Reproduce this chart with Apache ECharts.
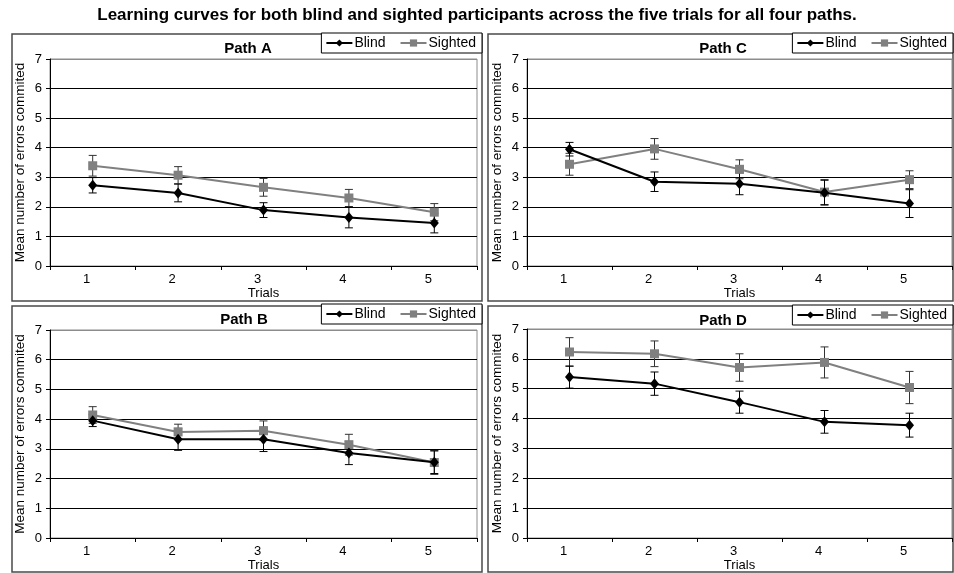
<!DOCTYPE html>
<html>
<head>
<meta charset="utf-8">
<script src="https://cdn.jsdelivr.net/npm/echarts@6/dist/echarts.min.js"></script>
<style>
html,body{margin:0;padding:0;background:#fff;}
#chart{width:954px;height:573px;}
</style>
</head>
<body>
<div id="chart"></div>
<script>
// ---- data ----
const mainTitle = 'Learning curves for both blind and sighted participants across the five trials for all four paths.';
const trials = ['1', '2', '3', '4', '5'];
const seriesNames = ['Blind', 'Sighted'];
const panelTitles = ['Path A', 'Path B', 'Path C', 'Path D'];

const pathA_blind = [2.73, 2.47, 1.89, 1.64, 1.45];
const pathA_blindErr = [0.26, 0.30, 0.25, 0.35, 0.33];
const pathA_sighted = [3.39, 3.07, 2.66, 2.30, 1.82];
const pathA_sightedErr = [0.35, 0.29, 0.30, 0.29, 0.29];

const pathB_blind = [3.95, 3.32, 3.32, 2.86, 2.55];
const pathB_blindErr = [0.20, 0.37, 0.41, 0.39, 0.38];
const pathB_sighted = [4.14, 3.57, 3.61, 3.14, 2.54];
const pathB_sightedErr = [0.28, 0.26, 0.33, 0.35, 0.40];

const pathC_blind = [3.95, 2.85, 2.78, 2.48, 2.11];
const pathC_blindErr = [0.23, 0.33, 0.37, 0.42, 0.47];
const pathC_sighted = [3.44, 3.96, 3.27, 2.50, 2.92];
const pathC_sightedErr = [0.37, 0.35, 0.32, 0.42, 0.30];

const pathD_blind = [5.39, 5.17, 4.55, 3.89, 3.78];
const pathD_blindErr = [0.37, 0.39, 0.37, 0.38, 0.40];
const pathD_sighted = [6.23, 6.17, 5.71, 5.88, 5.04];
const pathD_sightedErr = [0.48, 0.43, 0.46, 0.52, 0.54];

const xAxisName = 'Trials';
const yAxisName = 'Mean number of errors commited';

// ---- layout ----
const panels = [
  {title: panelTitles[0], blind: pathA_blind, blindErr: pathA_blindErr, sighted: pathA_sighted, sightedErr: pathA_sightedErr,
   box: [12, 34, 470, 267], grid: {left: 50, top: 59, width: 427, height: 207}, titleX: 248, titleY: 41, legend: {right: 472, top: 33}},
  {title: panelTitles[1], blind: pathB_blind, blindErr: pathB_blindErr, sighted: pathB_sighted, sightedErr: pathB_sightedErr,
   box: [12, 306, 470, 266], grid: {left: 50, top: 330, width: 427, height: 208}, titleX: 244, titleY: 312, legend: {right: 472, top: 304}},
  {title: panelTitles[2], blind: pathC_blind, blindErr: pathC_blindErr, sighted: pathC_sighted, sightedErr: pathC_sightedErr,
   box: [488, 34, 465, 267], grid: {left: 527, top: 59, width: 425, height: 207}, titleX: 723, titleY: 41, legend: {right: 1, top: 33}},
  {title: panelTitles[3], blind: pathD_blind, blindErr: pathD_blindErr, sighted: pathD_sighted, sightedErr: pathD_sightedErr,
   box: [488, 306, 465, 266], grid: {left: 527, top: 329, width: 425, height: 209}, titleX: 723, titleY: 313, legend: {right: 1, top: 305}}
];

const FONT = 'Liberation Sans, Arial, sans-serif';
const BLIND_COLOR = '#000000';
const SIGHTED_COLOR = '#808080';

function errRender(params, api) {
  const x = api.value(0), lo = api.value(1), hi = api.value(2);
  const p1 = api.coord([x, hi]);
  const p2 = api.coord([x, lo]);
  const w = 4;
  const style = {stroke: api.visual('color'), lineWidth: 1};
  return {
    type: 'group',
    children: [
      {type: 'line', shape: {x1: p1[0], y1: p1[1], x2: p2[0], y2: p2[1]}, style: style},
      {type: 'line', shape: {x1: p1[0] - w, y1: p1[1], x2: p1[0] + w, y2: p1[1]}, style: style},
      {type: 'line', shape: {x1: p2[0] - w, y1: p2[1], x2: p2[0] + w, y2: p2[1]}, style: style}
    ]
  };
}

const titles = [{
  text: mainTitle, left: 477, top: 7, textAlign: 'center', padding: 0,
  textStyle: {fontFamily: FONT, fontSize: 17, fontWeight: 'bold', color: '#000'}
}];
const grids = [], xAxes = [], yAxes = [], series = [], legends = [], graphics = [];

panels.forEach((p, i) => {
  graphics.push({
    type: 'rect', z: -10,
    shape: {x: p.box[0], y: p.box[1], width: p.box[2], height: p.box[3]},
    style: {fill: '#fff', stroke: '#4a4a4a', lineWidth: 1.5}
  });
  titles.push({
    text: p.title, left: p.titleX, top: p.titleY, textAlign: 'center', padding: 0,
    textStyle: {fontFamily: FONT, fontSize: 15, fontWeight: 'bold', color: '#000'}
  });
  grids.push(Object.assign({show: true, borderColor: '#8c8c8c', borderWidth: 1, backgroundColor: 'transparent'}, p.grid));
  xAxes.push({
    type: 'category', gridIndex: i, data: trials, boundaryGap: true,
    name: xAxisName, nameLocation: 'middle', nameGap: 19,
    nameTextStyle: {fontFamily: FONT, fontSize: 13, color: '#000'},
    axisLine: {lineStyle: {color: '#000', width: 1}},
    axisTick: {show: true, length: 4, inside: false, lineStyle: {color: '#000'}},
    axisLabel: {fontFamily: FONT, fontSize: 13, color: '#000', margin: 7, padding: [0, 12, 0, 0]},
    splitLine: {show: false}
  });
  yAxes.push({
    type: 'value', gridIndex: i, min: 0, max: 7, interval: 1,
    name: yAxisName, nameLocation: 'middle', nameGap: 23,
    nameTextStyle: {fontFamily: FONT, fontSize: 13.5, color: '#000'},
    axisLine: {show: true, lineStyle: {color: '#000', width: 1}},
    axisTick: {show: true, length: 4, lineStyle: {color: '#000'}},
    axisLabel: {fontFamily: FONT, fontSize: 13, color: '#000', margin: 8},
    splitLine: {show: true, lineStyle: {color: ['#000', '#000', '#000', '#000', '#000', '#000', '#000', '#8c8c8c'], width: 1}}
  });
  series.push({
    type: 'custom', name: 'SightedErr', xAxisIndex: i, yAxisIndex: i,
    renderItem: errRender, itemStyle: {color: '#333'}, z: 2,
    encode: {x: 0, y: [1, 2]},
    data: p.sighted.map((v, k) => [k, v - p.sightedErr[k], v + p.sightedErr[k]])
  });
  series.push({
    type: 'custom', name: 'BlindErr', xAxisIndex: i, yAxisIndex: i,
    renderItem: errRender, itemStyle: {color: '#000'}, z: 2,
    encode: {x: 0, y: [1, 2]},
    data: p.blind.map((v, k) => [k, v - p.blindErr[k], v + p.blindErr[k]])
  });
  series.push({
    type: 'line', name: seriesNames[1], xAxisIndex: i, yAxisIndex: i,
    data: p.sighted, symbol: 'rect', symbolSize: 9, z: 3,
    lineStyle: {color: SIGHTED_COLOR, width: 2},
    itemStyle: {color: SIGHTED_COLOR, borderWidth: 0},
    animation: false
  });
  series.push({
    type: 'line', name: seriesNames[0], xAxisIndex: i, yAxisIndex: i,
    data: p.blind, symbol: 'diamond', symbolSize: [9, 11], z: 4,
    lineStyle: {color: BLIND_COLOR, width: 2},
    itemStyle: {color: BLIND_COLOR, borderWidth: 0},
    animation: false
  });
  legends.push(Object.assign({
    data: seriesNames,
    orient: 'horizontal', itemWidth: 26, itemHeight: 9, itemGap: 14,
    padding: [3, 6, 3, 4],
    borderColor: '#000', borderWidth: 1, backgroundColor: '#fff',
    selectedMode: false,
    textStyle: {fontFamily: FONT, fontSize: 14, color: '#000', padding: [0, 0, 0, -3]}
  }, p.legend));
});

const chart = echarts.init(document.getElementById('chart'));
chart.setOption({
  animation: false,
  backgroundColor: '#fff',
  title: titles,
  graphic: graphics,
  grid: grids,
  xAxis: xAxes,
  yAxis: yAxes,
  legend: legends,
  series: series
});
</script>
</body>
</html>
